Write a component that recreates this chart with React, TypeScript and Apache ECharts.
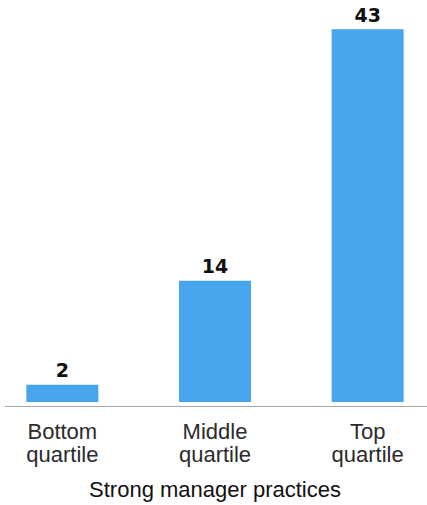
import React, { useEffect, useRef } from "react";
import * as echarts from "echarts";

const categories = ["Bottom\nquartile", "Middle\nquartile", "Top\nquartile"];
const values = [2, 14, 43];
const axisName = "Strong manager practices";

const FONT = "'Liberation Sans', Arial, sans-serif";
const NUM_FONT = "'DejaVu Sans', 'Liberation Sans', sans-serif";
// The plot is wider than the page so that the category bands spread past both edges.
const OFFSET = 14;
const CHART_W = 458;
const CHART_H = 505;

export default function App() {
  const ref = useRef<HTMLDivElement>(null);

  useEffect(() => {
    if (!ref.current) return;
    const chart = echarts.init(ref.current, null, { renderer: "svg" });
    chart.setOption({
      animation: false,
      textStyle: { fontFamily: FONT },
      grid: { left: 0, right: 0, top: 12, bottom: 99, containLabel: false },
      xAxis: {
        type: "category",
        data: categories,
        axisLine: { show: false },
        axisTick: { show: false },
        axisLabel: {
          color: "#2b2b2b",
          fontSize: 22,
          lineHeight: 23,
          margin: 18,
          fontFamily: FONT,
        },
        name: axisName,
        nameLocation: "middle",
        nameGap: 76,
        nameTextStyle: { color: "#111", fontSize: 22, fontFamily: FONT },
      },
      yAxis: {
        type: "value",
        min: 0,
        max: 45,
        show: false,
        splitLine: { show: false },
      },
      graphic: [
        {
          type: "line",
          shape: { x1: 5 + OFFSET, y1: 406.5, x2: 427 + OFFSET, y2: 406.5 },
          style: { stroke: "#a8a8a8", lineWidth: 1 },
        },
      ],
      series: [
        {
          type: "bar",
          data: values,
          barWidth: 72,
          itemStyle: { color: "#46a5ec" },
          label: {
            show: true,
            position: "top",
            distance: 5,
            color: "#111",
            fontSize: 19,
            fontWeight: "bold",
            fontFamily: NUM_FONT,
          },
        },
      ],
    });
    return () => chart.dispose();
  }, []);

  return (
    <div
      style={{
        position: "fixed",
        left: 0,
        top: 0,
        width: 427,
        height: 505,
        overflow: "hidden",
        background: "#fff",
      }}
    >
      <div
        ref={ref}
        style={{ position: "absolute", left: -OFFSET, top: 0, width: CHART_W, height: CHART_H }}
      />
    </div>
  );
}
